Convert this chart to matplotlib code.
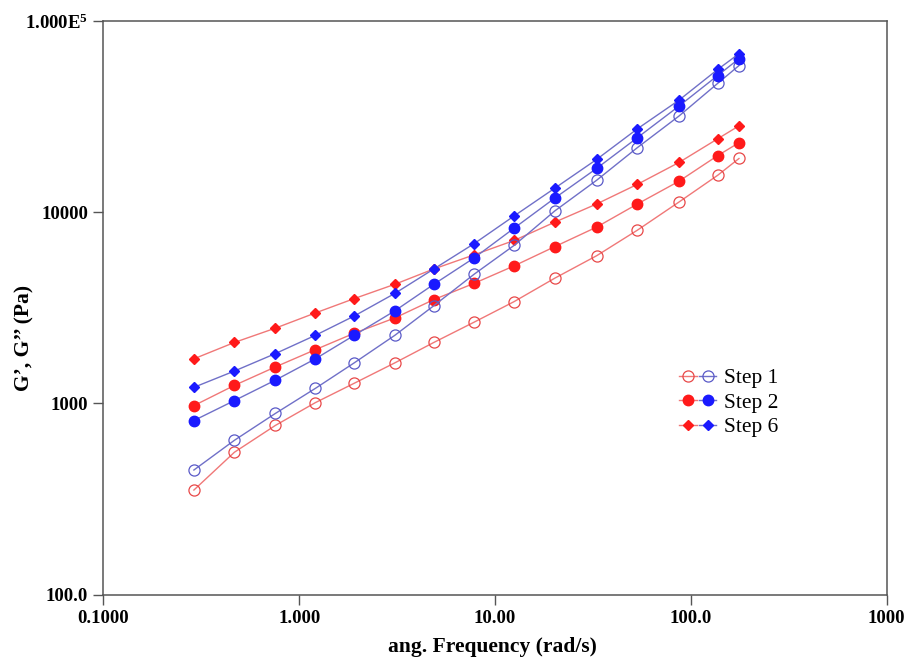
import matplotlib
matplotlib.use("Agg")
import matplotlib.pyplot as plt
from matplotlib.legend_handler import HandlerTuple
from matplotlib.ticker import FixedLocator, FixedFormatter, NullLocator

plt.rcParams['font.family'] = ['Liberation Serif', 'DejaVu Serif']
plt.rcParams['mathtext.fontset'] = 'custom'
plt.rcParams['mathtext.rm'] = 'Liberation Serif:bold'
plt.rcParams['mathtext.it'] = 'Liberation Serif:bold'
plt.rcParams['mathtext.bf'] = 'Liberation Serif:bold'

# angular frequency (rad/s)
freq = [0.29, 0.467, 0.755, 1.21, 1.91, 3.08, 4.87, 7.83, 12.5, 20.2, 33.0, 53.3, 86.9, 137, 176]

# Step 1 (open circles)
step1_red = [352, 555, 766, 1009, 1274, 1629, 2083, 2661, 3404, 4519, 5918, 8053, 11300, 15600, 19100]
step1_blue = [448, 641, 885, 1198, 1629, 2270, 3243, 4742, 6700, 10160, 14690, 21770, 31840, 47200, 58500]
# Step 2 (filled circles)
step2_red = [973, 1242, 1550, 1910, 2327, 2798, 3491, 4247, 5236, 6607, 8356, 11040, 14520, 19770, 23100]
step2_blue = [813, 1034, 1322, 1710, 2270, 3048, 4198, 5771, 8245, 11860, 16940, 24540, 35900, 51880, 63530]
# Step 6 (diamonds)
step6_red = [1710, 2083, 2473, 2972, 3532, 4198, 5048, 5987, 7112, 8872, 11040, 13990, 18200, 24210, 28300]
step6_blue = [1213, 1476, 1820, 2270, 2864, 3760, 5048, 6853, 9550, 13360, 18880, 27300, 38540, 55820, 67450]

x_ticks = [0.1, 1, 10, 100, 1000]
x_labels = ['0.1000', '1.000', '10.00', '100.0', '1000']
y_ticks = [100, 1000, 10000, 100000]
y_labels = ['100.0', '1000', '10000', '1.000E$^{5}$']
legend_labels = ['Step 1', 'Step 2', 'Step 6']

RED = '#ff1a1a'
RED_LINE = '#f07878'
BLUE = '#1a1aff'
BLUE_LINE = '#7070c8'

fig = plt.figure(figsize=(9.17, 6.58), dpi=100)
ax = fig.add_axes([0.1127, 0.0965, 0.8543, 0.8715])

def series(y, mcol, lcol, marker, ms, filled):
    kw = dict(color=lcol, lw=1.0, marker=marker, ms=ms, markeredgecolor=mcol,
              markerfacecolor=mcol if filled else 'none', markeredgewidth=1.0 if filled else 0.9)
    return ax.plot(freq, y, **kw)[0]

r1 = series(step1_red, '#e84848', RED_LINE, 'o', 8, False)
r2 = series(step2_red, RED, RED_LINE, 'o', 7.5, True)
r6 = series(step6_red, RED, RED_LINE, 'D', 5.5, True)
b1 = series(step1_blue, '#5a5ac8', BLUE_LINE, 'o', 8, False)
b2 = series(step2_blue, BLUE, BLUE_LINE, 'o', 7.5, True)
b6 = series(step6_blue, BLUE, BLUE_LINE, 'D', 5.5, True)

ax.set_xscale('log')
ax.set_yscale('log')
ax.set_xlim(0.1, 1000)
ax.set_ylim(100, 100000)
ax.xaxis.set_major_locator(FixedLocator(x_ticks))
ax.xaxis.set_major_formatter(FixedFormatter(x_labels))
ax.yaxis.set_major_locator(FixedLocator(y_ticks))
ax.yaxis.set_major_formatter(FixedFormatter(y_labels))
ax.xaxis.set_minor_locator(NullLocator())
ax.yaxis.set_minor_locator(NullLocator())
ax.tick_params(axis='both', which='major', direction='out', length=7, width=1,
               color='#555555', labelsize=13.5, pad=4)
for lab in ax.get_xticklabels() + ax.get_yticklabels():
    lab.set_fontweight('bold')
for s in ax.spines.values():
    s.set_color('#555555')
    s.set_linewidth(1.1)

ax.set_xlabel('ang. Frequency (rad/s)', fontsize=15.5, fontweight='bold')
ax.xaxis.set_label_coords(0.497, -0.074)
ax.set_ylabel('G’, G’’ (Pa)', fontsize=15.5, fontweight='bold')
ax.yaxis.set_label_coords(-0.088, 0.447)

leg = ax.legend([(r1, b1), (r2, b2), (r6, b6)], legend_labels,
                handler_map={tuple: HandlerTuple(ndivide=None, pad=0.1)},
                loc='upper left', bbox_to_anchor=(0.729, 0.402), frameon=False,
                fontsize=15.5, handlelength=1.75, handletextpad=0.35, labelspacing=0.2,
                borderpad=0.2, borderaxespad=0)

fig.savefig('out.png', dpi=100)
